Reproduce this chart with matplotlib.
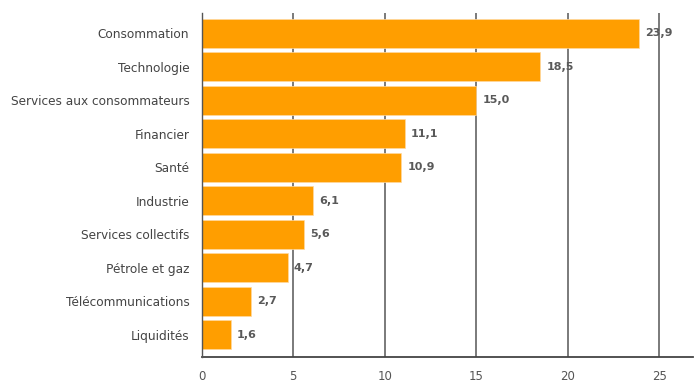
import matplotlib.pyplot as plt
import numpy as np

# Sector weights (%)
sectors = ["Consommation", "Technologie", "Services aux consommateurs", "Financier",
           "Santé", "Industrie", "Services collectifs", "Pétrole et gaz",
           "Télécommunications", "Liquidités"]
weights = [23.9, 18.5, 15.0, 11.1, 10.9, 6.1, 5.6, 4.7, 2.7, 1.6]
xticks = [0, 5, 10, 15, 20, 25]

plt.rcParams['font.family'] = ['DejaVu Sans']

fig = plt.figure(figsize=(6.96, 3.82), dpi=100)
ax = fig.add_axes([0.290, 0.0654, 0.7057, 0.9006])

y = np.arange(len(sectors))
ax.barh(y, weights, height=0.87, color="#FF9E00", edgecolor="#FFD9A0", linewidth=0.5, zorder=2)

for yi, w in zip(y, weights):
    ax.text(w + 0.33, yi, f"{w:.1f}".replace(".", ","), va="center", ha="left",
            fontsize=8, fontweight="bold", color="#595959", zorder=3)

ax.set_yticks(y)
ax.set_yticklabels(sectors, fontsize=8.7, color="#444444")
ax.set_ylim(len(sectors) - 1 + 0.66, -0.61)
ax.set_xlim(0, 26.85)
ax.set_xticks(xticks)
ax.set_xticklabels([str(t) for t in xticks], fontsize=8.5, color="#555555")
ax.tick_params(axis="both", length=0)
ax.tick_params(axis="x", pad=9)
ax.tick_params(axis="y", pad=9)

for t in xticks[1:]:
    ax.axvline(t, color="#707070", linewidth=1.3, zorder=1)

for s in ["top", "right"]:
    ax.spines[s].set_visible(False)
ax.spines["left"].set_color("#555555")
ax.spines["bottom"].set_color("#444444")
ax.spines["left"].set_linewidth(1.0)
ax.spines["bottom"].set_linewidth(1.3)
ax.spines["left"].set_zorder(4)

fig.savefig("out.png", dpi=100)
